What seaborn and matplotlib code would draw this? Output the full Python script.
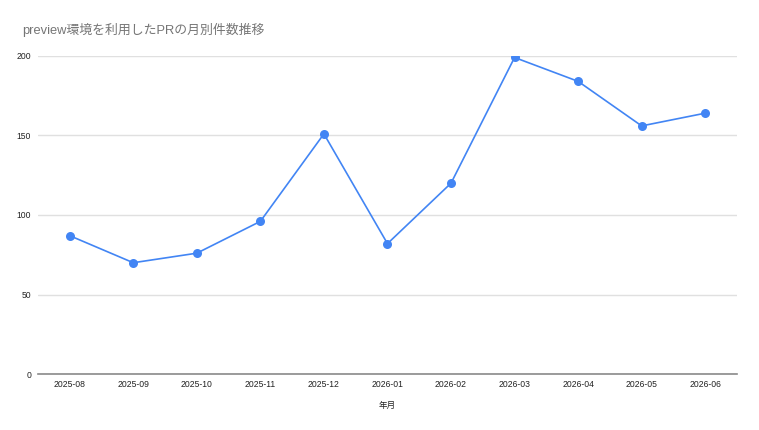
import matplotlib
matplotlib.use('Agg')
import matplotlib.pyplot as plt
import pandas as pd
import seaborn as sns

# monthly counts
months = ['2025-08', '2025-09', '2025-10', '2025-11', '2025-12', '2026-01',
          '2026-02', '2026-03', '2026-04', '2026-05', '2026-06']
counts = [87, 70, 76, 96, 151, 82, 120, 199, 184, 156, 164]
yticks = [0, 50, 100, 150, 200]

df = pd.DataFrame({'年月': months, '件数': counts})

sns.set_style('white')
plt.rcParams['font.family'] = ['Liberation Sans', 'Noto Sans CJK JP', 'DejaVu Sans']

fig = plt.figure(figsize=(7.59, 4.30), dpi=100)
ax = fig.add_axes([0.050, 0.130, 0.921, 0.740])

sns.lineplot(data=df, x='年月', y='件数', sort=False, color='#4285F4',
             linewidth=1.2, marker='o', markersize=6.5, markeredgewidth=0, ax=ax)

ax.set_ylim(0, 200)
ax.set_xlim(-0.5, len(months) - 0.5)
ax.set_yticks(yticks)
ax.yaxis.grid(True, color='#e0e0e0', linewidth=1)
ax.set_axisbelow(True)
for side in ['top', 'right', 'left']:
    ax.spines[side].set_visible(False)
ax.spines['bottom'].set_color('#8a8a8a')
ax.spines['bottom'].set_linewidth(1.2)
ax.tick_params(axis='x', length=0, labelsize=6.2, colors='#222222', pad=4)
ax.tick_params(axis='y', length=0, labelsize=6.2, colors='#222222', pad=5)
ax.set_ylabel('')
ax.set_xlabel('年月', fontsize=6.2, color='#222222', labelpad=9)

fig.text(0.029, 0.93, 'preview環境を利用したPRの月別件数推移', fontsize=9.3,
         color='#757575', ha='left', va='center')

fig.savefig('out.png', dpi=100)
